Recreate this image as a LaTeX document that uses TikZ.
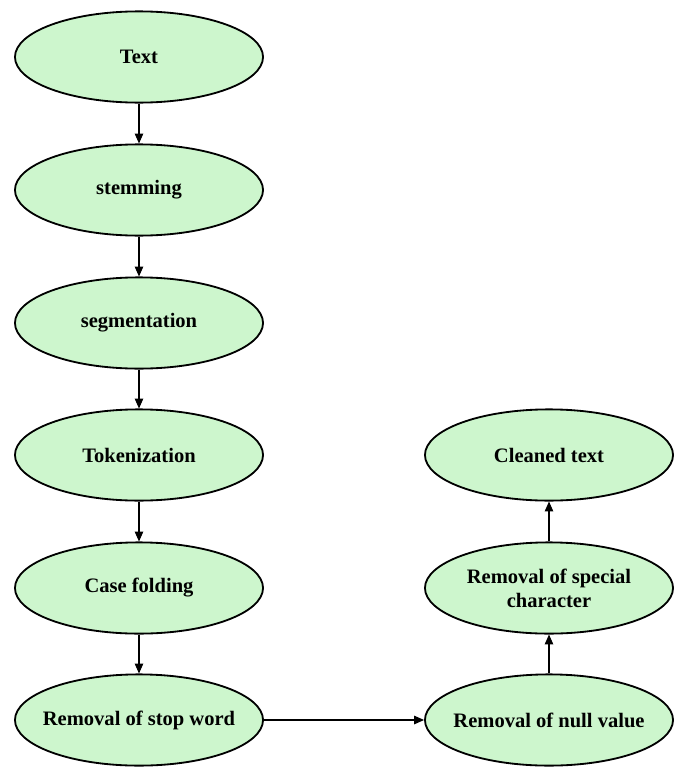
\documentclass[tikz,border=0pt]{standalone}
\usepackage{fontspec}
\setmainfont{Liberation Serif}
\usetikzlibrary{shapes.geometric,arrows.meta}
\definecolor{stagefill}{RGB}{205,246,205}
\tikzset{
  stage/.style={ellipse,draw=black,fill=stagefill,line width=1.3pt,
    minimum width=6.2cm,minimum height=2.28cm,inner xsep=-0.5cm,inner ysep=0pt,
    align=center,font=\fontsize{14.6}{17}\selectfont\bfseries},
  flow/.style={-{Triangle[length=7pt,width=6pt]},line width=0.8pt}
}
\begin{document}
\begin{tikzpicture}[x=0.025cm,y=-0.025cm]
			\useasboundingbox (0,0) rectangle (677,769);
			\node[stage] (text) at(139,57){Text};
			\node[stage] (stem) at(139,190){stemming};
			\node[stage] (segm) at(139,323){segmentation};
			\node[stage] (tok) at(139,455){Tokenization};
			\node[stage] (case) at(139,588){Case folding};
			\node[stage] (stop) at(139,720){Removal of stop word};
			\node[stage] (null) at(549,720){Removal of null value};
			\node[stage] (spec) at(549,588){Removal of special\\character};
			\node[stage] (clean) at(549,455){Cleaned text};
			\draw[flow](text)--(stem);
			\draw[flow](stem)--(segm);
			\draw[flow](segm)--(tok);
			\draw[flow](tok)--(case);
			\draw[flow](case)--(stop);
			\draw[flow](stop)--(null);
			\draw[flow](null)--(spec);
			\draw[flow](spec)--(clean);
			\end{tikzpicture}
\end{document}
